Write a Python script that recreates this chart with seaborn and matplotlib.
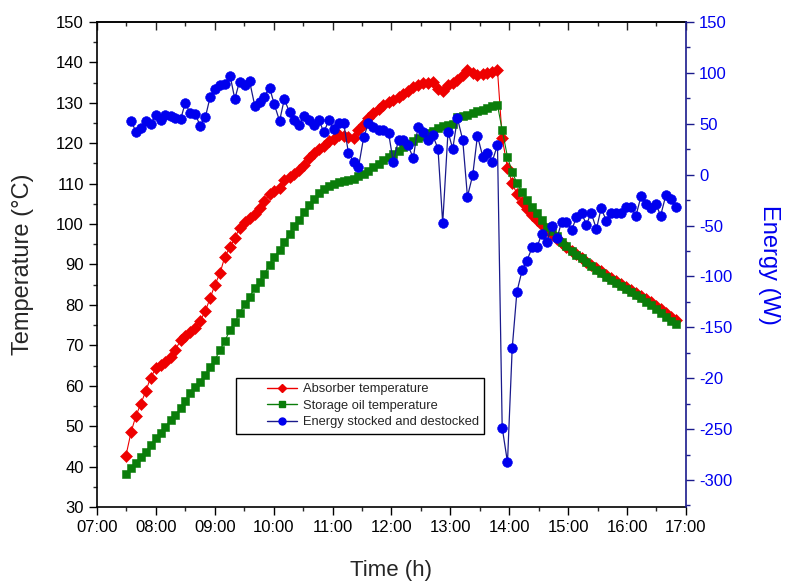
import matplotlib
matplotlib.use("Agg")
import matplotlib.pyplot as plt
import seaborn as sns
from matplotlib.lines import Line2D
from matplotlib.legend_handler import HandlerLine2D
from matplotlib.ticker import MultipleLocator, FixedLocator, FixedFormatter

# time of day in decimal hours, one sample about every 5 min
time_h = [
    7.49, 7.58, 7.66, 7.74, 7.83, 7.91, 8.00, 8.08, 8.16, 8.25,
    8.33, 8.42, 8.50, 8.58, 8.67, 8.75, 8.84, 8.92, 9.00, 9.09,
    9.17, 9.26, 9.34, 9.42, 9.51, 9.59, 9.68, 9.76, 9.84, 9.93,
    10.01, 10.10, 10.18, 10.27, 10.35, 10.43, 10.52, 10.60, 10.69, 10.77,
    10.85, 10.94, 11.02, 11.11, 11.19, 11.27, 11.36, 11.44, 11.53, 11.61,
    11.69, 11.78, 11.86, 11.95, 12.03, 12.12, 12.20, 12.28, 12.37, 12.45,
    12.54, 12.62, 12.70, 12.79, 12.87, 12.96, 13.04, 13.12, 13.21, 13.29,
    13.38, 13.46, 13.55, 13.63, 13.71, 13.80, 13.88, 13.97, 14.05, 14.13,
    14.22, 14.30, 14.39, 14.47, 14.55, 14.64, 14.72, 14.81, 14.89, 14.97,
    15.06, 15.14, 15.23, 15.31, 15.39, 15.48, 15.56, 15.65, 15.73, 15.82,
    15.90, 15.98, 16.07, 16.15, 16.24, 16.32, 16.40, 16.49, 16.57, 16.66,
    16.74, 16.83,
]

absorber_temp = [
    42.6, 48.6, 52.5, 55.4, 58.7, 62.0, 64.3, 65.1, 65.9, 67.2,
    68.8, 71.3, 72.3, 73.3, 74.4, 76.0, 78.5, 81.6, 84.9, 87.9,
    91.9, 94.3, 96.5, 99.0, 100.5, 101.6, 102.6, 104.0, 105.6, 107.4,
    108.1, 108.8, 110.8, 111.6, 112.3, 113.3, 114.5, 116.3, 117.7, 118.6,
    119.3, 120.5, 121.0, 122.0, 121.8, 121.5, 121.2, 123.3, 124.8, 126.2,
    127.6, 128.4, 129.5, 130.1, 130.7, 131.5, 132.3, 133.0, 133.8, 134.3,
    134.8, 135.0, 135.2, 133.5, 132.8, 134.4, 135.0, 135.6, 136.8, 138.0,
    137.3, 136.9, 137.1, 137.3, 137.6, 138.1, 121.3, 113.9, 110.1, 107.5,
    105.5, 103.8, 102.3, 100.9, 99.7, 98.5, 97.5, 96.4, 95.4, 94.4,
    93.4, 92.5, 91.6, 90.7, 89.9, 89.1, 88.3, 87.5, 86.7, 85.9,
    85.2, 84.5, 83.8, 83.0, 82.3, 81.5, 80.7, 79.8, 78.9, 78.0,
    77.1, 76.2,
]

oil_temp = [
    38.2, 39.6, 40.8, 42.4, 43.7, 45.3, 47.0, 48.2, 49.9, 51.5,
    52.8, 54.4, 56.3, 58.1, 59.6, 61.0, 62.7, 64.6, 66.4, 68.8,
    71.1, 73.8, 75.7, 77.9, 80.2, 82.0, 84.1, 85.7, 87.7, 89.9,
    91.8, 93.6, 95.6, 97.6, 99.4, 101.0, 102.9, 104.6, 106.2, 107.6,
    108.7, 109.5, 110.0, 110.4, 110.7, 110.9, 111.2, 111.8, 112.5, 113.1,
    114.0, 114.9, 115.8, 116.6, 117.4, 118.2, 119.0, 119.8, 120.6, 121.3,
    121.9, 122.5, 123.1, 123.8, 124.3, 124.5, 124.8, 126.6, 126.8, 127.0,
    127.4, 127.9, 128.3, 128.7, 129.1, 129.4, 123.3, 116.6, 112.9, 110.1,
    108.0, 106.0, 104.3, 102.7, 101.0, 99.3, 98.2, 97.0, 95.6, 94.5,
    93.4, 92.3, 91.5, 90.5, 89.6, 88.7, 87.9, 87.0, 86.2, 85.3,
    84.6, 83.9, 83.2, 82.4, 81.7, 80.8, 80.0, 79.1, 78.1, 77.0,
    76.1, 75.2,
]

# energy starts one sample later (time_h[1:])
energy_w = [
    52.8, 42.3, 45.6, 52.8, 49.5, 58.7, 53.7, 58.7, 57.7, 55.4,
    54.4, 70.7, 60.3, 59.6, 48.1, 56.4, 76.0, 84.2, 88.1, 89.1,
    97.3, 74.4, 91.4, 88.1, 92.0, 67.5, 71.7, 76.6, 85.5, 69.2,
    52.8, 74.1, 61.3, 53.7, 48.8, 58.0, 53.7, 48.8, 53.7, 41.7,
    53.7, 44.6, 50.5, 50.5, 21.0, 12.8, 7.3, 37.3, 50.5, 47.2,
    43.9, 43.9, 41.3, 12.8, 34.1, 34.1, 29.2, 16.1, 47.2, 42.3,
    34.1, 39.0, 25.3, -47.8, 42.3, 25.3, 55.4, 34.1, -21.6, -0.3,
    38.3, 17.7, 21.6, 12.8, 29.2, -248.5, -282.6, -170.6, -115.0, -93.6,
    -84.5, -71.3, -71.3, -58.6, -66.4, -50.1, -62.5, -46.2, -46.2, -54.3,
    -41.9, -37.9, -49.4, -37.3, -53.6, -33.0, -45.5, -37.3, -37.3, -37.3,
    -32.0, -32.0, -40.6, -20.6, -28.8, -33.0, -28.8, -40.3, -19.9, -24.2,
    -32.0,
]

hour_ticks = [7, 8, 9, 10, 11, 12, 13, 14, 15, 16, 17]
hour_labels = ["07:00", "08:00", "09:00", "10:00", "11:00", "12:00",
               "13:00", "14:00", "15:00", "16:00", "17:00"]
energy_ticks = [150, 100, 50, 0, -50, -100, -150, -200, -250, -300]
energy_labels = ["150", "100", "50", "0", "-50", "-100", "-150", "-20", "-250", "-300"]

sns.set_style("ticks")
plt.rcParams["font.family"] = ["Liberation Sans", "DejaVu Sans"]

fig = plt.figure(figsize=(7.93, 5.83), dpi=100)
ax = fig.add_axes([0.1223, 0.1304, 0.7427, 0.8319])
ax2 = ax.twinx()

red = "#ee0000"
green = "#0a7d0a"
blue = "#0000ee"
navy = "#1a1a8c"

sns.lineplot(x=time_h, y=absorber_temp, ax=ax, color=red, marker="D", markersize=6,
             markeredgecolor=red, markeredgewidth=0.4, linewidth=0.8)
sns.lineplot(x=time_h, y=oil_temp, ax=ax, color=green, marker="s", markersize=6,
             markeredgecolor=green, markeredgewidth=0.4, linewidth=0.8)
sns.lineplot(x=time_h[1:], y=energy_w, ax=ax2, color=navy, marker="o", markersize=7,
             markerfacecolor=blue, markeredgecolor=blue, markeredgewidth=0.4, linewidth=0.9)

ax.set_xlim(7, 17)
ax.set_ylim(30, 150)
ax2.set_ylim(-326.5, 150)

ax.xaxis.set_major_locator(FixedLocator(hour_ticks))
ax.xaxis.set_major_formatter(FixedFormatter(hour_labels))
ax.xaxis.set_minor_locator(MultipleLocator(0.5))
ax.yaxis.set_major_locator(MultipleLocator(10))
ax.yaxis.set_minor_locator(MultipleLocator(5))
ax2.yaxis.set_major_locator(FixedLocator(energy_ticks))
ax2.yaxis.set_major_formatter(FixedFormatter(energy_labels))
ax2.yaxis.set_minor_locator(MultipleLocator(25))

ax.tick_params(axis="both", which="major", direction="out", length=6, width=1,
               labelsize=12, colors="black")
ax.tick_params(axis="both", which="minor", direction="out", length=3, width=1)
ax2.tick_params(axis="y", which="major", direction="out", length=6, width=1,
                labelsize=12, color=navy, labelcolor=blue)
ax2.tick_params(axis="y", which="minor", direction="out", length=3, width=1, color=navy)

top = ax.secondary_xaxis("top")
top.xaxis.set_major_locator(FixedLocator(hour_ticks))
top.xaxis.set_minor_locator(MultipleLocator(0.5))
top.tick_params(axis="x", which="major", direction="in", length=6, width=1, labeltop=False)
top.tick_params(axis="x", which="minor", direction="in", length=3, width=1)
top.spines["top"].set_linewidth(1.2)

for s in ["left", "bottom", "top"]:
    ax.spines[s].set_color("black")
    ax.spines[s].set_linewidth(1.2)
ax.spines["right"].set_visible(False)
for s in ["left", "bottom", "top"]:
    ax2.spines[s].set_visible(False)
ax2.spines["right"].set_color(navy)
ax2.spines["right"].set_linewidth(1.2)

ax.set_xlabel("Time (h)", fontsize=16, labelpad=18)
ax.set_ylabel("Temperature (°C)", fontsize=17, labelpad=16)
ax2.set_ylabel("Energy (W)", fontsize=17, color=blue, rotation=270, labelpad=34)

for a in (ax, ax2):
    if a.get_legend() is not None:
        a.get_legend().remove()

handles = [
    Line2D([], [], color=red, marker="D", markersize=4.5, markeredgecolor=red, linewidth=1),
    Line2D([], [], color=green, marker="s", markersize=4.5, markeredgecolor=green, linewidth=1),
    Line2D([], [], color=navy, marker="o", markersize=5, markerfacecolor=blue,
           markeredgecolor=blue, linewidth=1),
]
labels = ["Absorber temperature", "Storage oil temperature", "Energy stocked and destocked"]
leg = ax2.legend(handles, labels, loc="upper left",
                 bbox_to_anchor=(236 / 793, 1 - 378 / 583), bbox_transform=fig.transFigure,
                 borderaxespad=0, fontsize=9.3, numpoints=1, handlelength=4.3,
                 handletextpad=0.5, labelspacing=0.35, borderpad=0.4, fancybox=False,
                 framealpha=1, edgecolor="black",
                 handler_map={Line2D: HandlerLine2D(xpad=2.0)})
leg.get_frame().set_linewidth(1.0)

fig.savefig("out.png", dpi=100)
